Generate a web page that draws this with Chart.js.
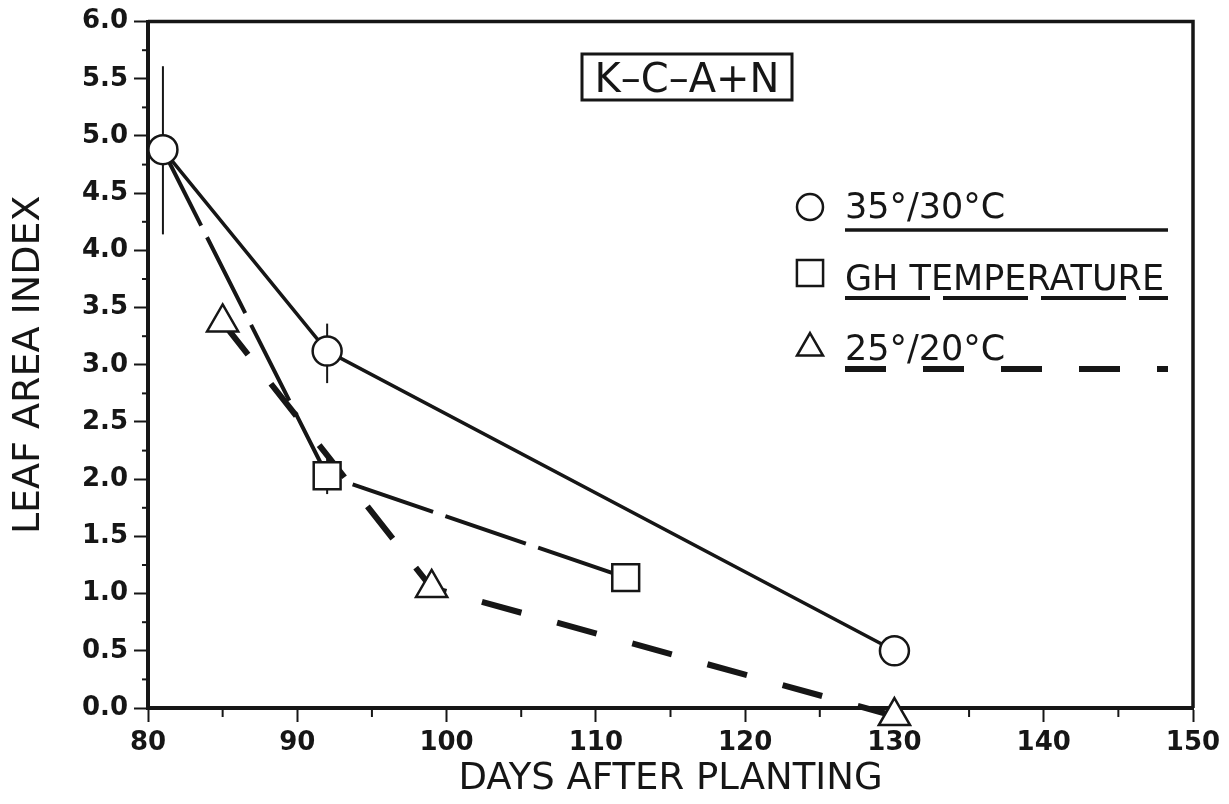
<!DOCTYPE html>
<html lang="en">

<head>
    <meta charset="UTF-8">
    <meta name="viewport" content="width=device-width, initial-scale=1.0">
    <script src="https://cdn.jsdelivr.net/npm/chart.js"></script>
    <title>Leaf Area Index</title>
    <style>
        body {
            margin: 0;
            background: #fff;
        }
    </style>
</head>

<body>
    <canvas id="lai" width="1229" height="804"></canvas>
    <script>
        // days after planting and leaf area index per treatment
        const days35 = [81, 92, 130];
        const lai35 = [4.88, 3.12, 0.50];
        const err35Low = [4.14, 2.84, null];
        const err35High = [5.61, 3.36, null];

        const daysGH = [81, 92, 112];
        const laiGH = [4.88, 2.03, 1.14];
        const errGHLow = [null, 1.87, null];
        const errGHHigh = [null, 2.19, null];

        const days25 = [85, 99, 130];
        const lai25 = [3.37, 1.05, -0.07];

        const seriesNames = ['35°/30°C', 'GH TEMPERATURE', '25°/20°C'];
        const boxLabel = 'K–C–A+N';

        const ink = '#161616';
        const font = "'DejaVu Sans', sans-serif";

        function points(xs, ys) {
            return xs.map((x, i) => ({ x: x, y: ys[i] }));
        }

        function drawMarker(ctx, style, x, y, r) {
            ctx.beginPath();
            if (style === 'circle') {
                ctx.arc(x, y, r, 0, Math.PI * 2);
            } else if (style === 'rect') {
                const s = r * Math.SQRT1_2;
                ctx.rect(x - s, y - s, 2 * s, 2 * s);
            } else {
                ctx.moveTo(x, y - r);
                ctx.lineTo(x + r * 0.866, y + r / 2);
                ctx.lineTo(x - r * 0.866, y + r / 2);
                ctx.closePath();
            }
            ctx.fillStyle = '#fff';
            ctx.fill();
            ctx.stroke();
        }

        // vertical error bars, drawn under the markers
        const errorBars = {
            id: 'errorBars',
            beforeDatasetsDraw(chart) {
                const { ctx, scales: { x, y } } = chart;
                const sets = [[days35, err35Low, err35High], [daysGH, errGHLow, errGHHigh]];
                ctx.save();
                ctx.strokeStyle = ink;
                ctx.lineWidth = 2;
                sets.forEach(([xs, lo, hi]) => {
                    xs.forEach((d, i) => {
                        if (lo[i] == null) return;
                        const px = x.getPixelForValue(d);
                        ctx.beginPath();
                        ctx.moveTo(px, y.getPixelForValue(lo[i]));
                        ctx.lineTo(px, y.getPixelForValue(hi[i]));
                        ctx.stroke();
                    });
                });
                ctx.restore();
            }
        };

        // frame, minor ticks, boxed label and legend
        const decorations = {
            id: 'decorations',
            afterDraw(chart) {
                const { ctx, chartArea: a, scales: { x, y } } = chart;
                ctx.save();
                ctx.strokeStyle = ink;
                ctx.lineCap = 'butt';

                ctx.lineWidth = 3.5;
                ctx.beginPath();
                ctx.moveTo(a.left, a.top);
                ctx.lineTo(a.right, a.top);
                ctx.lineTo(a.right, a.bottom);
                ctx.stroke();

                ctx.lineWidth = 2;
                for (let v = 0.25; v < 6; v += 0.5) {
                    const py = y.getPixelForValue(v);
                    ctx.beginPath();
                    ctx.moveTo(a.left - 6, py);
                    ctx.lineTo(a.left - 2, py);
                    ctx.stroke();
                }
                for (let d = 85; d < 150; d += 10) {
                    const px = x.getPixelForValue(d);
                    ctx.beginPath();
                    ctx.moveTo(px, a.bottom + 2);
                    ctx.lineTo(px, a.bottom + 9);
                    ctx.stroke();
                }

                // K-C-A+N box
                ctx.lineWidth = 3;
                ctx.strokeRect(582, 54, 210, 46);
                ctx.fillStyle = ink;
                ctx.font = '40px ' + font;
                ctx.textAlign = 'center';
                ctx.textBaseline = 'alphabetic';
                ctx.fillText(boxLabel, 687, 92);

                // legend with line sample underlining each name
                ctx.textAlign = 'left';
                ctx.font = '35px ' + font;
                const rows = [
                    { y: 207, r: 13, base: 218, line: 230 },
                    { y: 273, r: 18.5, base: 290, line: 298 },
                    { y: 348, r: 15, base: 360, line: 369 }
                ];
                chart.data.datasets.forEach((ds, i) => {
                    const row = rows[i];
                    ctx.lineWidth = 2.5;
                    ctx.setLineDash([]);
                    drawMarker(ctx, ds.pointStyle, 810, row.y, row.r);
                    ctx.fillStyle = ink;
                    ctx.fillText(seriesNames[i], 845, row.base);
                    ctx.lineWidth = ds.borderWidth;
                    ctx.setLineDash(ds.borderDash || []);
                    ctx.beginPath();
                    ctx.moveTo(845, row.line);
                    ctx.lineTo(1168, row.line);
                    ctx.stroke();
                });
                ctx.restore();
            }
        };

        const laiConfig = {
            type: 'line',
            data: {
                datasets: [{
                    label: seriesNames[0],
                    data: points(days35, lai35),
                    borderColor: ink,
                    borderWidth: 3.5,
                    pointStyle: 'circle',
                    pointRadius: 14.5,
                    pointBorderWidth: 2.5,
                    pointBackgroundColor: '#fff',
                    pointBorderColor: ink,
                    clip: false
                }, {
                    label: seriesNames[1],
                    data: points(daysGH, laiGH),
                    borderColor: ink,
                    borderWidth: 4,
                    borderDash: [85, 13],
                    pointStyle: 'rect',
                    pointRadius: [0, 19, 19],
                    pointBorderWidth: 2.5,
                    pointBackgroundColor: '#fff',
                    pointBorderColor: ink,
                    clip: false
                }, {
                    label: seriesNames[2],
                    data: points(days25, lai25),
                    borderColor: ink,
                    borderWidth: 6,
                    borderDash: [41, 37],
                    pointStyle: 'triangle',
                    pointRadius: 18,
                    pointBorderWidth: 2.5,
                    pointBackgroundColor: '#fff',
                    pointBorderColor: ink,
                    clip: false
                }]
            },
            options: {
                responsive: false,
                animation: false,
                layout: { padding: { top: 21, right: 36, left: 0, bottom: 0 } },
                plugins: { legend: { display: false }, tooltip: { enabled: false } },
                elements: { line: { tension: 0, borderCapStyle: 'butt' } },
                scales: {
                    x: {
                        type: 'linear',
                        min: 80,
                        max: 150,
                        afterFit: s => { s.height = 96; },
                        ticks: {
                            stepSize: 10,
                            padding: 6,
                            color: ink,
                            font: { family: font, size: 26, weight: 'bold' }
                        },
                        grid: { drawOnChartArea: false, tickLength: 14, tickWidth: 2, tickColor: ink },
                        border: { display: true, width: 4, color: ink },
                        title: {
                            display: true,
                            text: 'DAYS AFTER PLANTING',
                            color: ink,
                            padding: { top: 0, bottom: 2 },
                            font: { family: font, size: 37 }
                        }
                    },
                    y: {
                        min: 0,
                        max: 6,
                        afterFit: s => { s.width = 148; },
                        ticks: {
                            stepSize: 0.5,
                            padding: 6,
                            color: ink,
                            callback: v => v.toFixed(1),
                            font: { family: font, size: 26, weight: 'bold' }
                        },
                        grid: { drawOnChartArea: false, tickLength: 14, tickWidth: 2, tickColor: ink },
                        border: { display: true, width: 4, color: ink },
                        title: {
                            display: true,
                            text: 'LEAF AREA INDEX',
                            color: ink,
                            padding: { top: 6, bottom: 0 },
                            font: { family: font, size: 38 }
                        }
                    }
                }
            },
            plugins: [errorBars, decorations]
        };

        new Chart(document.getElementById('lai'), laiConfig);
    </script>
</body>

</html>
